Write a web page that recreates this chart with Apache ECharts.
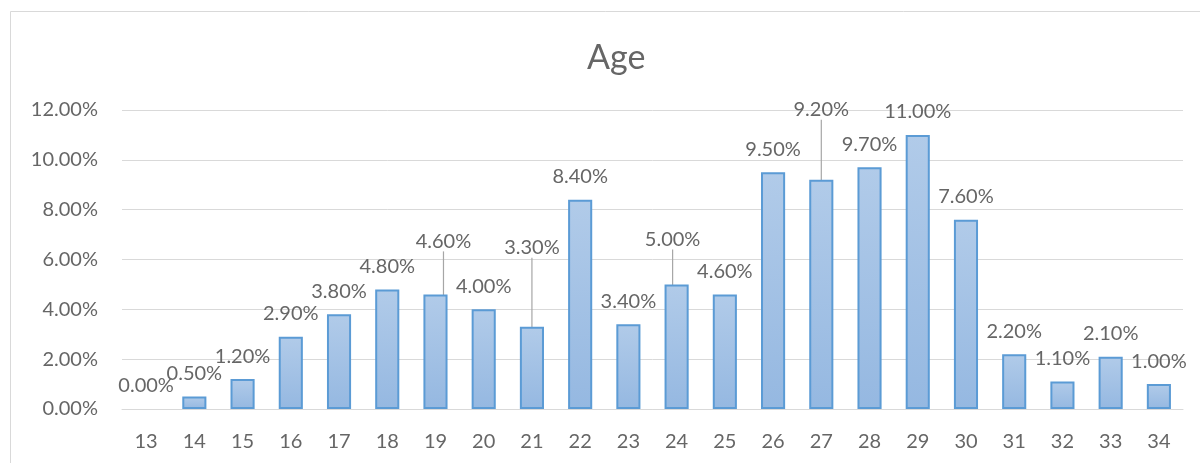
<!DOCTYPE html>
<html>
<head>
<meta charset="utf-8">
<script src="https://cdn.jsdelivr.net/npm/echarts@6/dist/echarts.min.js"></script>
<style>
html,body{margin:0;padding:0;background:#fff;}
#chart{width:1200px;height:463px;}
</style>
</head>
<body>
<div id="chart"></div>
<script>
var titleText = 'Age';
var categories = ['13','14','15','16','17','18','19','20','21','22','23','24','25','26','27','28','29','30','31','32','33','34'];
var values = [0.0, 0.5, 1.2, 2.9, 3.8, 4.8, 4.6, 4.0, 3.3, 8.4, 3.4, 5.0, 4.6, 9.5, 9.2, 9.7, 11.0, 7.6, 2.2, 1.1, 2.1, 1.0];
var yTicks = [0, 2, 4, 6, 8, 10, 12];

// label nudges (pixels) for labels moved away with a leader line
var labelNudge = { '19': [8, -30], '21': [0, -56], '24': [-4, -22], '27': [0, -47] };

var FONT = 'Lato';
var TXT = '#666666';

var chart = echarts.init(document.getElementById('chart'), null, {renderer: 'canvas'});

var barData = values.map(function (v, i) {
  var item = { value: v };
  if (labelNudge[categories[i]]) {
    item.labelLine = { show: true };
  }
  if (v === 0) {
    item.itemStyle = { borderWidth: 0, borderColor: 'rgba(0,0,0,0)' };
  }
  return item;
});

chart.setOption({
  backgroundColor: '#ffffff',
  animation: false,
  title: {
    text: titleText,
    left: 582,
    top: 36,
    textStyle: { fontFamily: FONT, fontSize: 34, fontWeight: 'normal', color: TXT }
  },
  graphic: [{
    type: 'rect',
    shape: { x: 10.5, y: 11.5, width: 1300, height: 600 },
    style: { fill: 'none', stroke: '#d9d9d9', lineWidth: 1 },
    silent: true
  }],
  grid: { left: 122, right: 17, top: 110, bottom: 54, containLabel: false },
  xAxis: {
    type: 'category',
    data: categories,
    axisLine: { show: true, lineStyle: { color: '#d9d9d9', width: 1 } },
    axisTick: { show: false },
    axisLabel: { color: TXT, fontFamily: FONT, fontSize: 20, margin: 23 }
  },
  yAxis: {
    type: 'value',
    min: yTicks[0],
    max: yTicks[yTicks.length - 1],
    interval: 2,
    axisLine: { show: false },
    axisTick: { show: false },
    splitLine: { lineStyle: { color: '#d9d9d9', width: 1 } },
    axisLabel: {
      color: TXT, fontFamily: FONT, fontSize: 20, margin: 24,
      formatter: function (v) { return v.toFixed(2) + '%'; }
    }
  },
  series: [{
    type: 'bar',
    data: barData,
    barWidth: '50%',
    itemStyle: {
      color: new echarts.graphic.LinearGradient(0, 0, 0, 1, [
        { offset: 0, color: '#b1cbe9' },
        { offset: 1, color: '#95b8e1' }
      ]),
      borderColor: '#5b9bd5',
      borderWidth: 2
    },
    label: {
      show: true,
      position: 'top',
      distance: 5,
      padding: [0, 0, 8, 0],
      color: TXT,
      fontFamily: FONT,
      fontSize: 20,
      formatter: function (p) { return p.value.toFixed(2) + '%'; }
    },
    labelLine: {
      show: false,
      lineStyle: { color: '#a6a6a6', width: 1.2 }
    },
    labelLayout: function (params) {
      var n = labelNudge[categories[params.dataIndex]];
      if (n) { return { dx: n[0], dy: n[1] }; }
      return {};
    }
  }]
});
</script>
</body>
</html>
